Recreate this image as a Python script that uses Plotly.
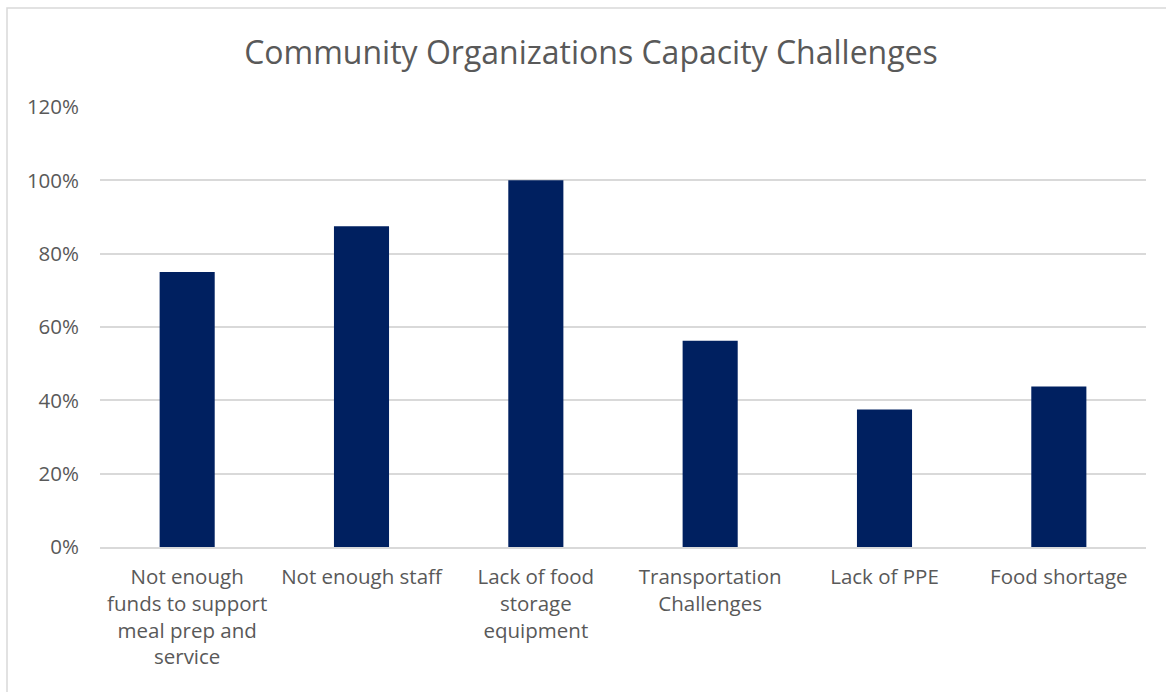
import plotly.graph_objects as go

categories = [
    "Not enough<br>funds to support<br>meal prep and<br>service",
    "Not enough staff",
    "Lack of food<br>storage<br>equipment",
    "Transportation<br>Challenges",
    "Lack of PPE",
    "Food shortage",
]
values = [0.75, 0.875, 1.0, 0.5625, 0.375, 0.4375]
y_ticks = [0, 0.2, 0.4, 0.6, 0.8, 1.0, 1.2]
y_tick_labels = ["0%", "20%", "40%", "60%", "80%", "100%", "120%"]

W, H = 1166, 692
L, R, T, B = 100, 20, 107, 145
pw, ph = W - L - R, H - T - B

FONT = "Open Sans, Liberation Sans, sans-serif"
TXT = "#595959"

fig = go.Figure(go.Bar(
    x=categories, y=values,
    marker=dict(color="#002060", line=dict(width=0)),
    hoverinfo="skip",
))

fig.update_layout(
    width=W, height=H,
    margin=dict(l=L, r=R, t=T, b=B, autoexpand=False),
    paper_bgcolor="white", plot_bgcolor="white",
    bargap=0.684,
    showlegend=False,
    title=dict(
        text="Community Organizations Capacity Challenges",
        x=591 / W, xref="container", xanchor="center",
        y=1 - 53 / H, yref="container", yanchor="middle",
        font=dict(family=FONT, size=32, color=TXT),
    ),
    xaxis=dict(
        showgrid=False, showline=True, linecolor="#d9d9d9", linewidth=1.5,
        ticks="", tickfont=dict(family=FONT, size=20.5, color=TXT),
        tickangle=0, ticklabelstandoff=11,
    ),
    yaxis=dict(
        range=[0, 1.2], tickvals=y_ticks, ticktext=y_tick_labels,
        showgrid=True, gridcolor="#d9d9d9", gridwidth=1.5,
        zeroline=False, showline=False, ticks="",
        tickfont=dict(family=FONT, size=20.5, color=TXT),
        ticklabelstandoff=20,
    ),
)

# Light grey chart border (partially cropped on right/bottom in reference)
fig.add_shape(
    type="rect", xref="paper", yref="paper",
    x0=(7 - L) / pw, x1=(W + 10 - L) / pw,
    y0=1 - (H + 10 - T) / ph, y1=1 + (T - 8) / ph,
    line=dict(color="#d9d9d9", width=1.5), fillcolor="rgba(0,0,0,0)",
    layer="below",
)

fig.write_html("out.html")
